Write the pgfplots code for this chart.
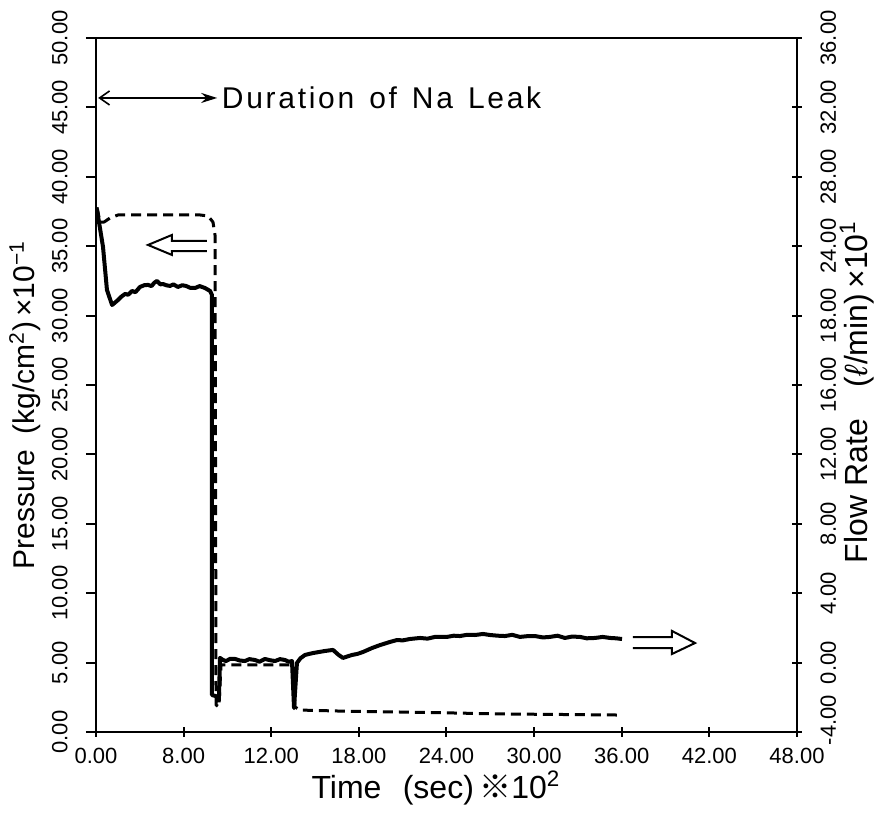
\documentclass[border=0pt]{standalone}
\usepackage{fontspec}
\setmainfont{Liberation Sans}
\newfontfamily\cjk{Noto Sans CJK JP}
\usepackage{pgfplots}
\pgfplotsset{compat=1.18}
\usetikzlibrary{arrows.meta}

\pgfplotsset{
  common/.style={
    at={(0,0)}, anchor=south west, scale only axis,
    width=350.5pt, height=347pt,
    xmin=0, xmax=48,
    axis line style={line width=1.3pt},
    major tick length=5pt,
    tick style={line width=1pt, black},
    ticklabel style={font=\fontsize{11}{13}\selectfont, inner sep=0pt},
    label style={font=\fontsize{16}{18}\selectfont},
    /pgf/number format/assume math mode=true,
  }
}

\begin{document}
\begin{tikzpicture}
\begin{axis}[common,
  ymin=0, ymax=50,
  xtick={0,6,...,48},
  xticklabels={0.00,8.00,12.00,18.00,24.00,30.00,36.00,42.00,48.00},
  xtick pos=bottom, xtick align=center,
  xticklabel style={anchor=north}, xticklabel shift=5.5pt,
  ytick={0,5,...,50}, ytick pos=left, ytick align=outside,
  yticklabel style={rotate=90, anchor=south}, yticklabel shift=9pt,
  yticklabel={\pgfmathprintnumber[fixed,fixed zerofill,precision=2]{\tick}},
  xlabel={Time\enspace\,(sec)\,{\cjk ※}10\textsuperscript{2}},
  xlabel style={at={(rel axis cs:0.485,0)}, anchor=center, yshift=-28pt},
  ylabel={Pressure\enspace(kg/cm\textsuperscript{2})\,×10\textsuperscript{−1}},
  ylabel style={at={(rel axis cs:-0.1013,0.471)}, anchor=center, font=\fontsize{15}{17}\selectfont},
]
% Pressure (dashed)
\addplot[black, line width=1.5pt, dash pattern=on 5pt off 3pt, line join=round] coordinates {
(0.07,37.8) (0.27,36.74) (0.55,36.74) (0.96,37.03) (1.51,37.25) (2.33,37.25)
(4.0,37.25) (6.0,37.25) (7.12,37.25) (7.67,37.18) (8.01,36.74) (8.15,35.8)
(8.22,1.95) (8.42,1.8) (8.56,4.83) (10.5,4.83) (13.28,4.83) (13.49,4.8)
(13.63,1.80) (13.97,1.58) (17.0,1.5) (20.8,1.44) (24.0,1.38) (27.66,1.30)
(32.0,1.26) (36.02,1.22)
};
% annotations
\draw[line width=0.8pt, {Straight Barb[length=5pt,width=7pt]}-{Stealth[length=8pt,width=5pt]}]
  (axis cs:0.15,45.68) -- (axis cs:8.3,45.68);
\node[anchor=west, font=\fontsize{15}{17}\selectfont\addfontfeatures{LetterSpace=9}, inner sep=0pt] at (axis cs:8.6,45.68) {Duration\hspace{0.5em}of\hspace{0.5em}Na\hspace{0.5em}Leak};
\draw[line width=1pt, line join=miter]
  (axis cs:7.60,35.38) -- (axis cs:5.20,35.38) -- (axis cs:5.20,35.81) -- (axis cs:3.56,35.09)
  -- (axis cs:5.20,34.37) -- (axis cs:5.20,34.65) -- (axis cs:7.60,34.65);
\draw[line width=1pt, line join=miter]
  (axis cs:36.77,6.84) -- (axis cs:39.44,6.84) -- (axis cs:39.44,7.28) -- (axis cs:41.02,6.41)
  -- (axis cs:39.44,5.62) -- (axis cs:39.44,6.05) -- (axis cs:36.77,6.05);
\end{axis}

\begin{axis}[common,
  ymin=-4, ymax=36,
  axis y line*=right, axis x line=none,
  ytick={-4,0,...,36}, ytick align=center,
  yticklabels={\hspace*{12pt}-4.00,0.00,4.00,8.00,12.00,16.00,18.00,24.00,28.00,32.00,36.00},
  yticklabel style={rotate=90, anchor=north}, yticklabel shift=9pt,
  ylabel={Flow Rate\quad(\textit{ℓ}/min)\,×10\textsuperscript{1}},
  ylabel style={at={(rel axis cs:1.0856,0.49)}, anchor=center},
]
% Flow rate (solid)
\addplot[black, line width=2pt, line join=round] coordinates {
(0.07,26.09) (0.48,23.96) (0.75,21.48) (1.10,20.61) (1.30,20.75) (1.51,20.90)
(1.75,21.1) (1.99,21.25) (2.2,21.2) (2.47,21.42) (2.7,21.35) (3.01,21.65)
(3.3,21.75) (3.56,21.77) (3.8,21.7) (4.0,21.9) (4.18,22.0) (4.4,21.8) (4.59,21.82)
(4.8,21.75) (5.07,21.71) (5.3,21.8) (5.61,21.65) (5.9,21.75) (6.16,21.71)
(6.45,21.6) (6.78,21.59) (7.1,21.7) (7.46,21.59) (7.81,21.42) (7.94,21.19)
(7.94,-1.87) (8.42,-1.98) (8.49,0.27) (8.7,0.15) (8.9,0.09) (9.2,0.22) (9.52,0.21)
(9.85,0.12) (10.2,0.09) (10.5,0.2) (10.89,0.15) (11.2,0.05) (11.57,0.21) (11.9,0.14)
(12.26,0.09) (12.6,0.2) (12.94,0.15) (13.2,0.05) (13.42,0.09) (13.56,-2.62)
(13.76,-0.02) (14.0,0.25) (14.31,0.44) (14.6,0.5) (14.86,0.55) (15.2,0.6)
(15.68,0.67) (16.23,0.73) (16.6,0.45) (16.91,0.27) (17.2,0.35) (17.53,0.44)
(17.9,0.5) (18.28,0.61) (18.9,0.84) (19.45,1.01) (20.13,1.19) (20.61,1.30)
(21.0,1.28) (21.5,1.36) (22.19,1.42) (22.7,1.38) (23.21,1.48) (24.03,1.48)
(24.5,1.55) (24.92,1.53) (25.4,1.6) (25.95,1.59) (26.5,1.65) (26.98,1.59)
(27.5,1.55) (28.0,1.53) (28.5,1.6) (29.03,1.48) (29.5,1.52) (30.06,1.53)
(30.6,1.45) (31.09,1.48) (31.6,1.55) (32.11,1.42) (32.6,1.5) (33.14,1.48)
(33.6,1.4) (34.17,1.42) (34.7,1.48) (35.2,1.42) (35.6,1.4) (36.02,1.36)
};
\end{axis}
\pgfresetboundingbox
\path[use as bounding box] (-48pt,-43pt) rectangle (391.5pt,366pt);
\end{tikzpicture}
\end{document}
